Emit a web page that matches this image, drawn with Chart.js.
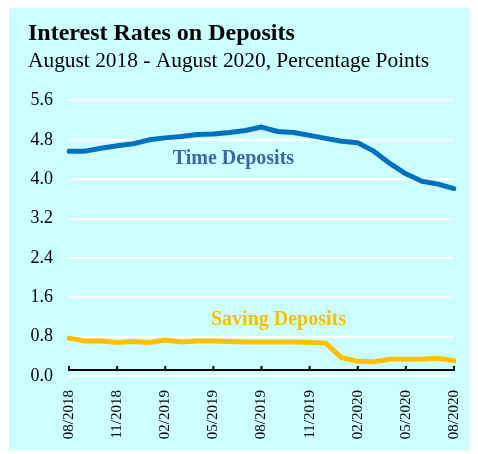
<!DOCTYPE html>
<html><head><meta charset="utf-8">
<script src="https://cdn.jsdelivr.net/npm/chart.js@4"></script>
<style>
html,body{margin:0;background:#fff;}
#box{position:absolute;left:9px;top:8px;width:461px;height:442px;background:#ccffff;}
canvas{display:block;}
</style>
</head><body>
<div id="box"><canvas id="c" width="461" height="442"></canvas></div>
<script>
const months = ['08/2018','09/2018','10/2018','11/2018','12/2018','01/2019','02/2019','03/2019','04/2019','05/2019','06/2019','07/2019','08/2019','09/2019','10/2019','11/2019','12/2019','01/2020','02/2020','03/2020','04/2020','05/2020','06/2020','07/2020','08/2020'];
const timeDeposits = [4.57,4.57,4.63,4.68,4.72,4.80,4.84,4.87,4.91,4.92,4.95,4.99,5.06,4.97,4.95,4.89,4.83,4.77,4.74,4.57,4.32,4.11,3.96,3.90,3.81];
const savingDeposits = [0.77,0.71,0.71,0.68,0.70,0.68,0.73,0.69,0.71,0.71,0.70,0.69,0.69,0.69,0.69,0.68,0.67,0.37,0.30,0.29,0.34,0.34,0.34,0.36,0.31];
const yTicks = [0.0,0.8,1.6,2.4,3.2,4.0,4.8,5.6];
const seriesNames = ['Time Deposits','Saving Deposits'];
const FONT = '"Liberation Serif","Times New Roman",serif';

const overlay = {
  id: 'overlay',
  afterDraw(chart) {
    const {ctx} = chart; const x = chart.scales.x, y = chart.scales.y;
    ctx.save();
    const ay = y.getPixelForValue(0.12);
    ctx.strokeStyle = '#000'; ctx.lineWidth = 2; ctx.lineCap = 'butt';
    ctx.beginPath();
    ctx.moveTo(x.getPixelForValue(0) - 1, ay);
    ctx.lineTo(x.getPixelForValue(months.length - 1) + 1, ay);
    months.forEach((m, i) => {
      if (i % 3 === 0) { const px = x.getPixelForValue(i); ctx.moveTo(px, ay); ctx.lineTo(px, ay - 4); }
    });
    ctx.stroke();
    ctx.textAlign = 'center'; ctx.textBaseline = 'alphabetic';
    ctx.font = 'bold 20px ' + FONT;
    ctx.fillStyle = '#3a67a8';
    ctx.fillText(seriesNames[0], x.getPixelForValue(10.25), y.getPixelForValue(4.31));
    ctx.fillStyle = '#f7c000';
    ctx.fillText(seriesNames[1], x.getPixelForValue(13.06), y.getPixelForValue(1.03));
    ctx.restore();
  }
};

new Chart(document.getElementById('c'), {
  type: 'line',
  data: {
    labels: months,
    datasets: [
      {label: seriesNames[0], data: timeDeposits, borderColor: '#0070c0', borderWidth: 5, pointRadius: 0, tension: 0, borderJoinStyle: 'round', borderCapStyle: 'round'},
      {label: seriesNames[1], data: savingDeposits, borderColor: '#ffc000', borderWidth: 5, pointRadius: 0, tension: 0, borderJoinStyle: 'round', borderCapStyle: 'round'}
    ]
  },
  options: {
    responsive: false, animation: false, devicePixelRatio: 1,
    layout: {padding: {left: 19, right: 16, top: 0, bottom: 0}},
    plugins: {
      legend: {display: false}, tooltip: {enabled: false},
      title: {display: true, text: 'Interest Rates on Deposits', align: 'start', color: '#000',
        font: {family: FONT, size: 24, weight: 'bold', lineHeight: 1.2}, padding: {top: 11, bottom: 0}},
      subtitle: {display: true, text: 'August 2018 - August 2020, Percentage Points', align: 'start', color: '#000',
        font: {family: FONT, size: 21.4, weight: 'normal', lineHeight: 1.2}, padding: {top: 1, bottom: 26}}
    },
    scales: {
      x: {
        offset: false,
        grid: {display: false, drawTicks: false},
        border: {display: false},
        ticks: {autoSkip: false, minRotation: 90, maxRotation: 90, padding: 14, color: '#000',
          font: {family: FONT, size: 15},
          callback: (v, i) => (i % 3 === 0 ? months[i] : '')},
        afterFit: s => { s.height = 74; s.paddingLeft = 0; s.paddingRight = 0; }
      },
      y: {
        min: 0, max: 5.6,
        afterBuildTicks: s => { s.ticks = yTicks.map(v => ({value: v})); },
        grid: {color: '#ffffff', lineWidth: 2, drawTicks: false},
        border: {display: false},
        ticks: {padding: 16, color: '#000', font: {family: FONT, size: 18},
          callback: v => Number(v).toFixed(1)},
        afterFit: s => { s.width = 41; }
      }
    }
  },
  plugins: [overlay]
});
</script>
</body></html>
